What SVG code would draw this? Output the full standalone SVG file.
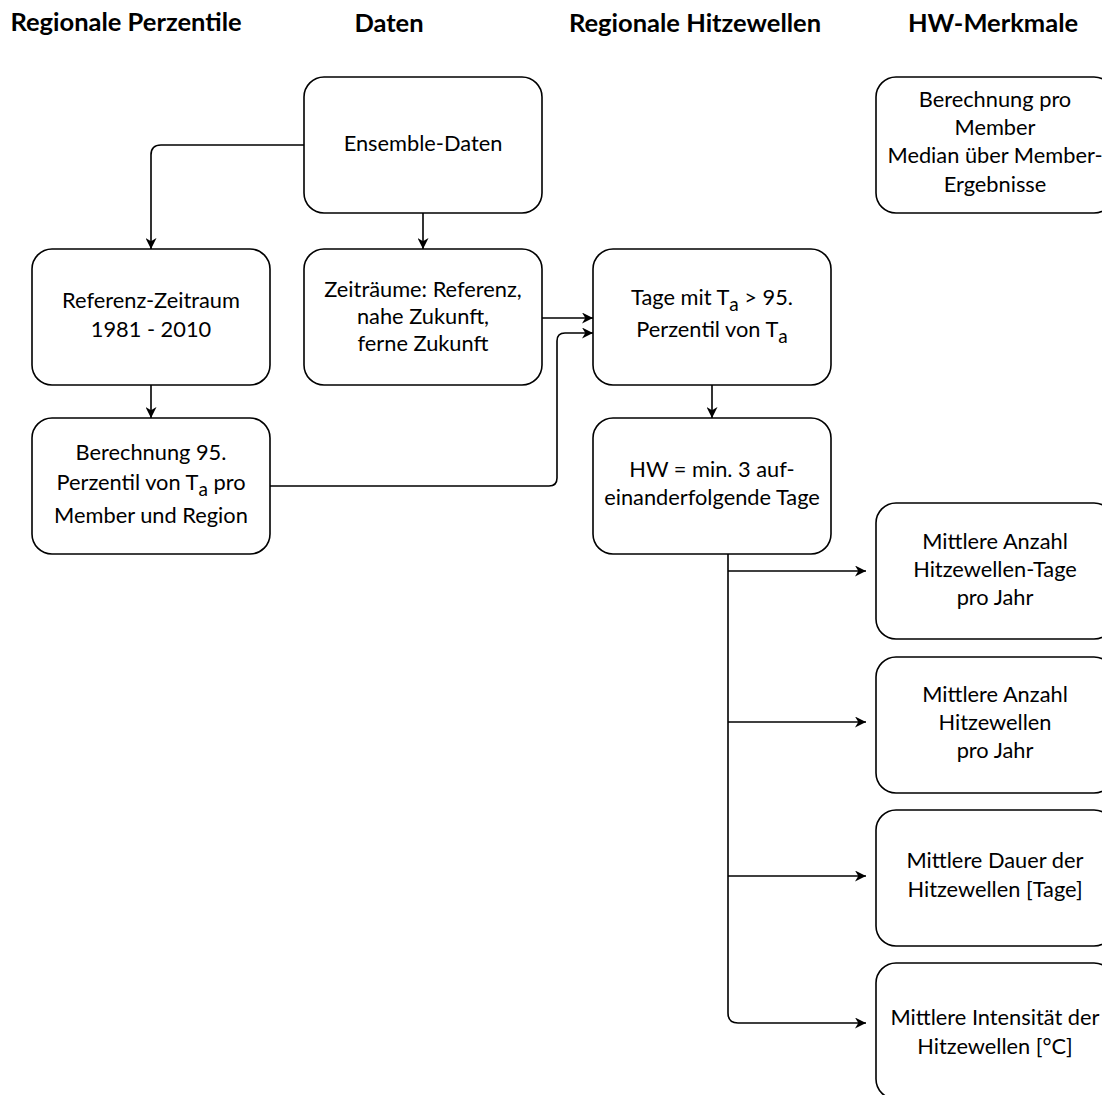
<svg xmlns="http://www.w3.org/2000/svg" width="1102" height="1095" viewBox="0 0 1102 1095">
<defs>
<style>
.box{fill:#fff;stroke:#000;stroke-width:1.6}
.t{font-family:Lato,"Open Sans","Liberation Sans",sans-serif;font-size:21.8px;fill:#000;text-anchor:middle}
.h{font-family:Lato,"Open Sans","Liberation Sans",sans-serif;font-size:25.5px;font-weight:bold;fill:#000;text-anchor:middle}
.c{fill:none;stroke:#000;stroke-width:1.6}
.sub{font-size:19px}
</style>
<marker id="arr" viewBox="0 0 10 10" refX="10" refY="5" markerWidth="11" markerHeight="11" markerUnits="userSpaceOnUse" orient="auto">
<path d="M0,0 L10,5 L0,10 L3,5 z" fill="#000"/>
</marker>
</defs>
<rect width="1102" height="1095" fill="#fff"/>
<g id="headers">
<text class="h" x="126" y="31">Regionale Perzentile</text>
<text class="h" x="389" y="32">Daten</text>
<text class="h" x="695" y="32">Regionale Hitzewellen</text>
<text class="h" x="993" y="32">HW-Merkmale</text>
</g>
<g id="connectors">
<path class="c" d="M304,145 H161 Q151,145 151,155 V249" marker-end="url(#arr)"/>
<path class="c" d="M423,213 V249" marker-end="url(#arr)"/>
<path class="c" d="M151,385 V418" marker-end="url(#arr)"/>
<path class="c" d="M542,318 H593" marker-end="url(#arr)"/>
<path class="c" d="M270,486 H549 Q557,486 557,478 V341 Q557,333 565,333 H593" marker-end="url(#arr)"/>
<path class="c" d="M712,385 V418" marker-end="url(#arr)"/>
<path class="c" d="M728,554 V1013 Q728,1023 738,1023 H866" marker-end="url(#arr)"/>
<path class="c" d="M728,571 H866" marker-end="url(#arr)"/>
<path class="c" d="M728,722 H866" marker-end="url(#arr)"/>
<path class="c" d="M728,876 H866" marker-end="url(#arr)"/>
</g>
<g id="ensemble">
<rect class="box" x="304" y="77" width="238" height="136" rx="20"/>
<text class="t" x="423" y="151">Ensemble-Daten</text>
</g>
<g id="referenz">
<rect class="box" x="32" y="249" width="238" height="136" rx="20"/>
<text class="t" x="151" y="308">Referenz-Zeitraum</text>
<text class="t" x="151" y="337">1981 - 2010</text>
</g>
<g id="zeitraeume">
<rect class="box" x="304" y="249" width="238" height="136" rx="20"/>
<text class="t" x="423" y="297">Zeiträume: Referenz,</text>
<text class="t" x="423" y="324">nahe Zukunft,</text>
<text class="t" x="423" y="351">ferne Zukunft</text>
</g>
<g id="tage">
<rect class="box" x="593" y="249" width="238" height="136" rx="20"/>
<text class="t" x="712" y="305">Tage mit T<tspan class="sub" dy="6">a</tspan><tspan dy="-6"> &gt; 95.</tspan></text>
<text class="t" x="712" y="337">Perzentil von T<tspan class="sub" dy="6">a</tspan></text>
</g>
<g id="berechnung95">
<rect class="box" x="32" y="418" width="238" height="136" rx="20"/>
<text class="t" x="151" y="460">Berechnung 95.</text>
<text class="t" x="151" y="490">Perzentil von T<tspan class="sub" dy="6">a</tspan><tspan dy="-6"> pro</tspan></text>
<text class="t" x="151" y="523">Member und Region</text>
</g>
<g id="hw">
<rect class="box" x="593" y="418" width="238" height="136" rx="20"/>
<text class="t" x="712" y="477">HW = min. 3 auf-</text>
<text class="t" x="712" y="505">einanderfolgende Tage</text>
</g>
<g id="member">
<rect class="box" x="876" y="77" width="238" height="136" rx="20"/>
<text class="t" x="995" y="107">Berechnung pro</text>
<text class="t" x="995" y="135">Member</text>
<text class="t" x="995" y="163">Median über Member-</text>
<text class="t" x="995" y="192">Ergebnisse</text>
</g>
<g id="anzahl-tage">
<rect class="box" x="876" y="503" width="238" height="136" rx="20"/>
<text class="t" x="995" y="549">Mittlere Anzahl</text>
<text class="t" x="995" y="577">Hitzewellen-Tage</text>
<text class="t" x="995" y="605">pro Jahr</text>
</g>
<g id="anzahl-hw">
<rect class="box" x="876" y="657" width="238" height="136" rx="20"/>
<text class="t" x="995" y="702">Mittlere Anzahl</text>
<text class="t" x="995" y="730">Hitzewellen</text>
<text class="t" x="995" y="758">pro Jahr</text>
</g>
<g id="dauer">
<rect class="box" x="876" y="810" width="238" height="136" rx="20"/>
<text class="t" x="995" y="868">Mittlere Dauer der</text>
<text class="t" x="995" y="897">Hitzewellen  [Tage]</text>
</g>
<g id="intensitaet">
<rect class="box" x="876" y="963" width="238" height="136" rx="20"/>
<text class="t" x="995" y="1025">Mittlere Intensität der</text>
<text class="t" x="995" y="1054">Hitzewellen [°C]</text>
</g>
</svg>
